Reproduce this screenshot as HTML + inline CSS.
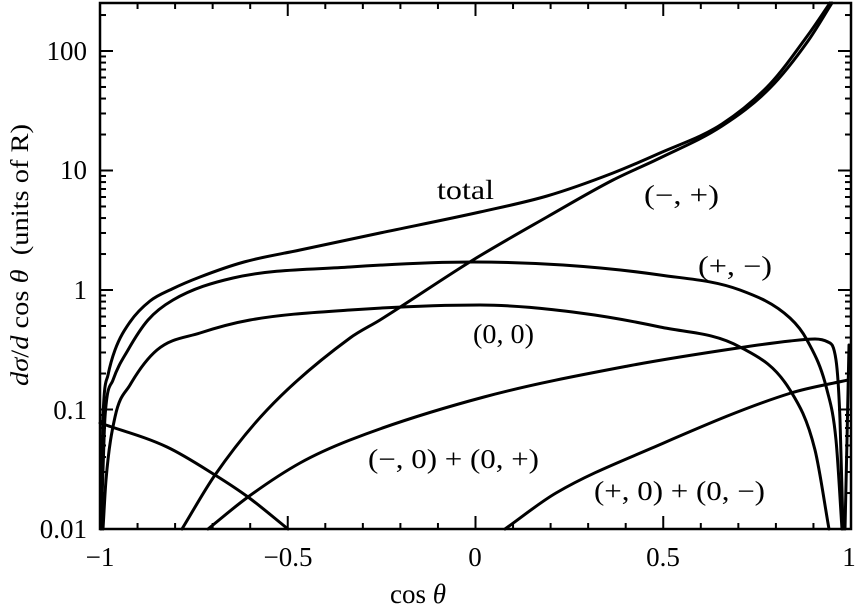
<!DOCTYPE html>
<html><head><meta charset="utf-8"><style>
html,body{margin:0;padding:0;background:#fff}
svg{display:block;font-family:"Liberation Serif",serif}
</style></head><body>
<svg id="s" width="856" height="611" viewBox="0 0 856 611" xmlns="http://www.w3.org/2000/svg">
<g id="g" fill="none" stroke="#000" stroke-width="3" stroke-linejoin="round" stroke-linecap="round"></g>
<rect x="100" y="3" width="751" height="526" fill="none" stroke="#000" stroke-width="2.5"/>
<g id="t" stroke="#000" stroke-width="2"></g>
<g font-size="27" fill="#000">
<text x="87" y="60" text-anchor="end">100</text>
<text x="87" y="179" text-anchor="end">10</text>
<text x="87" y="299" text-anchor="end">1</text>
<text x="87" y="419" text-anchor="end">0.1</text>
<text x="87" y="538" text-anchor="end">0.01</text>
<text x="100" y="566" text-anchor="middle">−1</text>
<text x="288" y="566" text-anchor="middle">−0.5</text>
<text x="475" y="566" text-anchor="middle">0</text>
<text x="663" y="566" text-anchor="middle">0.5</text>
<text x="849" y="566" text-anchor="middle">1</text>
<text x="418" y="603" text-anchor="middle">cos <tspan font-style="italic">θ</tspan></text>
<text transform="translate(28,255) rotate(-90)" text-anchor="middle" font-size="25" textLength="262" lengthAdjust="spacingAndGlyphs"><tspan font-style="italic">dσ</tspan>/<tspan font-style="italic">d</tspan> cos <tspan font-style="italic">θ</tspan>&#160;&#160;(units of R)</text>
<text x="437" y="199" textLength="57" lengthAdjust="spacingAndGlyphs">total</text>
<text x="644" y="204" textLength="75" lengthAdjust="spacingAndGlyphs">(−, +)</text>
<text x="698" y="275" textLength="74" lengthAdjust="spacingAndGlyphs">(+, −)</text>
<text x="473" y="343" textLength="61" lengthAdjust="spacingAndGlyphs">(0, 0)</text>
<text x="368" y="468" textLength="171" lengthAdjust="spacingAndGlyphs">(−, 0) + (0, +)</text>
<text x="594" y="500" textLength="171" lengthAdjust="spacingAndGlyphs">(+, 0) + (0, −)</text>
</g>
</svg>
<script>
var curves=[
[[101,529],[102,470],[103,417],[108,375],[115,350],[130,322],[150,301],[172,289],[200,277],[244,262],[300,250],[380,233],[480,212],[547,196],[613,173],[660,153],[722,124],[770,84],[808,35],[830,3]],
[[182,529],[215,475],[267,410],[350,338],[380,320],[473,260],[547,217],[613,180],[660,158],[722,126],[770,88],[808,41],[832,3]],
[[101,529],[103,470],[105,417],[113,380],[128,350],[148,320],[173,300],[233,278],[350,267],[473,262],[563,265],[660,275],[740,290],[790,318],[807,340],[827,390],[836,440],[842,529]],
[[103,529],[106,480],[115,417],[130,385],[157,350],[200,333],[250,320],[350,310],[480,305],[580,313],[660,327],[740,347],[790,390],[815,450],[829,529]],
[[208,529],[248,497],[300,463],[350,440],[484,397],[628,366],[738,348],[790,341],[815,339],[828,342],[836,360],[840,420],[843,529]],
[[505,529],[556,493],[652,448],[791,393],[848,380]],
[[100,423],[167,447],[215,475],[248,497],[288,529]],
[[845,529],[847,440],[849,345]]
];
function mono(p){var n=p.length,d=[],m=[];for(var i=0;i<n-1;i++)d.push((p[i+1][1]-p[i][1])/(p[i+1][0]-p[i][0]));
m[0]=d[0];m[n-1]=d[n-2];for(i=1;i<n-1;i++){m[i]=(d[i-1]*d[i]<=0)?0:(d[i-1]+d[i])/2;}
for(i=0;i<n-1;i++){if(d[i]==0){m[i]=m[i+1]=0;continue;}var a=m[i]/d[i],b=m[i+1]/d[i],h=a*a+b*b;if(h>9){var tt=3/Math.sqrt(h);m[i]=tt*a*d[i];m[i+1]=tt*b*d[i];}}
var s='M'+p[0];for(i=0;i<n-1;i++){var h=(p[i+1][0]-p[i][0])/3;s+='C'+(p[i][0]+h)+','+(p[i][1]+m[i]*h)+' '+(p[i+1][0]-h)+','+(p[i+1][1]-m[i+1]*h)+' '+p[i+1];}return s;}
var g=document.getElementById('g'),NS='http://www.w3.org/2000/svg';
curves.forEach(function(p){var el=document.createElementNS(NS,'path');el.setAttribute('d',mono(p));g.appendChild(el);});
var t=document.getElementById('t'),s='';
function L(x1,y1,x2,y2){s+='<line x1="'+x1+'" y1="'+y1+'" x2="'+x2+'" y2="'+y2+'"/>';}
for(var dcd=0;dcd<5;dcd++){for(var k=1;k<10;k++){var y=529-119.5*(dcd+Math.log10(k));if(y<3)continue;var l=k==1?13:6;L(100,y,100+l,y);L(851,y,851-l,y);}}
for(var i=0;i<=20;i++){var x=100+i*37.55,l=i%5==0?13:6;L(x,529,x,529-l);L(x,3,x,3+l);}
t.innerHTML=s;
</script>
</body></html>
